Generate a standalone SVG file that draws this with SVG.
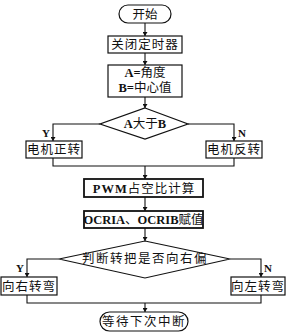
<svg xmlns="http://www.w3.org/2000/svg" width="290" height="333" viewBox="0 0 290 333">
<defs>
<marker id="ah" viewBox="0 0 8 10" refX="8" refY="5" markerWidth="4" markerHeight="5" orient="auto" markerUnits="userSpaceOnUse">
<path d="M0,0 L8,5 L0,10 Z" fill="#111"/>
</marker>
<style>
.n{fill:#fff;stroke:#111;stroke-width:1.2}
.t{fill:#fff;stroke:#111;stroke-width:1.8}
.c{fill:none;stroke:#111;stroke-width:1.1}
text{font-family:"Liberation Serif","Noto Sans CJK SC",serif;font-size:12.5px;font-weight:normal;fill:#111;text-anchor:middle}
.b{font-weight:bold}
.lb{font-size:11px;font-weight:bold}
</style>
</defs>
<rect width="290" height="333" fill="#fff"/>
<g id="connectors">
<path class="c" d="M145,23 V36" marker-end="url(#ah)"/>
<path class="c" d="M145,53 V65" marker-end="url(#ah)"/>
<path class="c" d="M145,97 V108" marker-end="url(#ah)"/>
<path class="c" d="M100,124 H53 V141" marker-end="url(#ah)"/>
<path class="c" d="M188,124 H234 V141" marker-end="url(#ah)"/>
<path class="c" d="M53,158 V166 H234 V158"/>
<path class="c" d="M145,166 V179" marker-end="url(#ah)"/>
<path class="c" d="M145,197 V211" marker-end="url(#ah)"/>
<path class="c" d="M145,228 V241" marker-end="url(#ah)"/>
<path class="c" d="M59,259 H27 V277" marker-end="url(#ah)"/>
<path class="c" d="M230,259 H261 V277" marker-end="url(#ah)"/>
<path class="c" d="M27,295 V303 H261 V295"/>
<path class="c" d="M145,303 V312" marker-end="url(#ah)"/>
<text class="lb" x="46" y="137">Y</text>
<text class="lb" x="242" y="137">N</text>
<text class="lb" x="20" y="272">Y</text>
<text class="lb" x="268" y="272">N</text>
</g>
<g id="start">
<rect class="n" x="119" y="5" width="52" height="18" rx="9"/>
<text x="145" y="18.5">开始</text>
</g>
<g id="close-timer">
<rect class="n" x="108" y="36" width="74" height="17"/>
<text x="145" y="49" letter-spacing="1">关闭定时器</text>
</g>
<g id="assign">
<rect class="n" x="108" y="65" width="74" height="32"/>
<text x="145" y="77"><tspan class="b">A=</tspan>角度</text>
<text x="145" y="92"><tspan class="b">B=</tspan>中心值</text>
</g>
<g id="cmp">
<polygon class="n" points="145,108 188,124 145,139 100,124"/>
<text x="145" y="128"><tspan class="b">A</tspan>大于<tspan class="b">B</tspan></text>
</g>
<g id="fwd">
<rect class="n" x="26" y="141" width="56" height="17"/>
<text x="54" y="154" letter-spacing="1">电机正转</text>
</g>
<g id="rev">
<rect class="n" x="206" y="141" width="56" height="17"/>
<text x="234" y="154" letter-spacing="1">电机反转</text>
</g>
<g id="pwm">
<rect class="t" x="84" y="179" width="119" height="18"/>
<text x="144" y="192.5" letter-spacing="1"><tspan class="b">PWM</tspan>占空比计算</text>
</g>
<g id="ocr">
<rect class="t" x="84" y="211" width="119" height="17"/>
<text x="143.5" y="224" font-size="11.5"><tspan class="b">OCRIA</tspan>、<tspan class="b">OCRIB</tspan>赋值</text>
</g>
<g id="dir">
<polygon class="n" points="145,241 230,259 145,278 59,259"/>
<text x="145" y="263" letter-spacing="1.5">判断转把是否向右偏</text>
</g>
<g id="right">
<rect class="n" x="1" y="277" width="56" height="18"/>
<text x="29" y="290.5" letter-spacing="1">向右转弯</text>
</g>
<g id="left">
<rect class="n" x="231" y="277" width="54" height="18"/>
<text x="258" y="290.5" letter-spacing="1">向左转弯</text>
</g>
<g id="end">
<rect class="n" x="100" y="312" width="88" height="19" rx="9.5"/>
<text x="144" y="326" letter-spacing="1.5">等待下次中断</text>
</g>
</svg>
